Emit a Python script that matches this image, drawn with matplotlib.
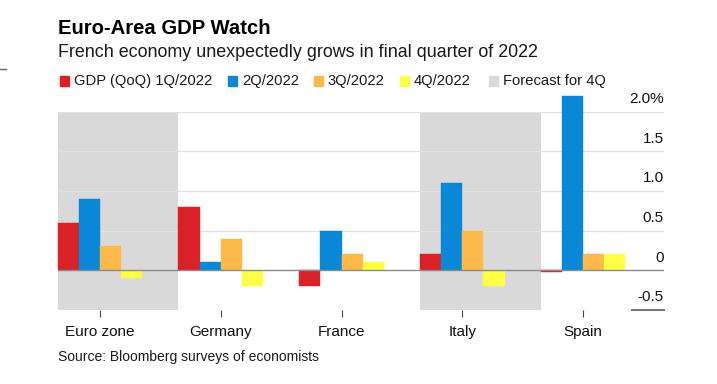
import matplotlib.pyplot as plt
from matplotlib.patches import Rectangle
from matplotlib.lines import Line2D

plt.rcParams['font.family'] = ['Liberation Sans', 'DejaVu Sans']

countries = ["Euro zone", "Germany", "France", "Italy", "Spain"]
series_names = ["GDP (QoQ) 1Q/2022", "2Q/2022", "3Q/2022", "4Q/2022"]
q1 = [0.6, 0.8, -0.2, 0.2, -0.02]
q2 = [0.9, 0.1, 0.5, 1.1, 2.2]
q3 = [0.3, 0.4, 0.2, 0.5, 0.2]
q4 = [-0.1, -0.2, 0.1, -0.2, 0.2]
forecast = ["Euro zone", "Italy"]
yticks = [-0.5, 0, 0.5, 1.0, 1.5, 2.0]
ytick_labels = ["-0.5", "0", "0.5", "1.0", "1.5", "2.0%"]

colors = ["#da2128", "#0a88d8", "#fdb94a", "#ffff44"]
band_color = "#d9d9d9"

fig = plt.figure(figsize=(7.17, 3.84), dpi=100)
ax = fig.add_axes([0.0805, 0.193, 0.8455, 0.516])

bw = 0.175
x = list(range(len(countries)))

for c in forecast:
    i = countries.index(c)
    ax.axvspan(i - 0.35, i + 0.65, color=band_color, lw=0, zorder=0)

for y in yticks[1:]:
    if y != 0:
        ax.axhline(y, color="#e2e2e2", lw=1, zorder=1)
ax.axhline(0, color="#8a8a8a", lw=1, zorder=3)
ax.axhline(-0.5, xmin=0.947, xmax=1.0, color="#777777", lw=1.5, zorder=3, clip_on=False)

for k, vals in enumerate([q1, q2, q3, q4]):
    pos = [i - 0.2625 + bw * k for i in x]
    ax.bar(pos, vals, width=bw, color=colors[k], zorder=2, clip_on=False,
           edgecolor=colors[k], lw=0.3)

ax.set_xlim(-0.35, 4.67)
ax.set_ylim(-0.5, 2.0)

for v, lab in zip(yticks, ytick_labels):
    ax.annotate(lab, xy=(1.0, v), xycoords=ax.get_yaxis_transform(),
                xytext=(0, 4), textcoords="offset points",
                ha="right", va="bottom", fontsize=11, color="#111111")

ax.set_yticks([])
ax.set_xticks(x)
ax.set_xticklabels(countries, fontsize=11, color="#111111")
ax.tick_params(axis="x", length=5, width=0.8, color="#444444", pad=6)
for s in ax.spines.values():
    s.set_visible(False)

fig.text(0.0805, 0.925, "Euro-Area GDP Watch", fontsize=14.6, fontweight="bold",
         va="center", ha="left", color="#000000")
fig.text(0.0805, 0.864, "French economy unexpectedly grows in final quarter of 2022",
         fontsize=12.9, va="center", ha="left", color="#1a1a1a")

legend_items = series_names + ["Forecast for 4Q"]
legend_colors = colors + [band_color]
legend_x = [60, 228, 314, 400, 489]
for lx, lab, col in zip(legend_x, legend_items, legend_colors):
    fig.patches.append(Rectangle((lx / 717, 1 - 86 / 384), 9 / 717, 10 / 384,
                                 transform=fig.transFigure, color=col))
    fig.text((lx + 14) / 717, 1 - 81 / 384, lab, fontsize=10.6, va="center",
             ha="left", color="#1a1a1a")

fig.lines.append(Line2D([0.0, 0.008], [1 - 69 / 384, 1 - 69 / 384],
                        transform=fig.transFigure, color="#666666", lw=1))

fig.text(0.0805, 1 - 357 / 384, "Source: Bloomberg surveys of economists",
         fontsize=10, va="center", ha="left", color="#1a1a1a")

fig.savefig("out.png", dpi=100)
